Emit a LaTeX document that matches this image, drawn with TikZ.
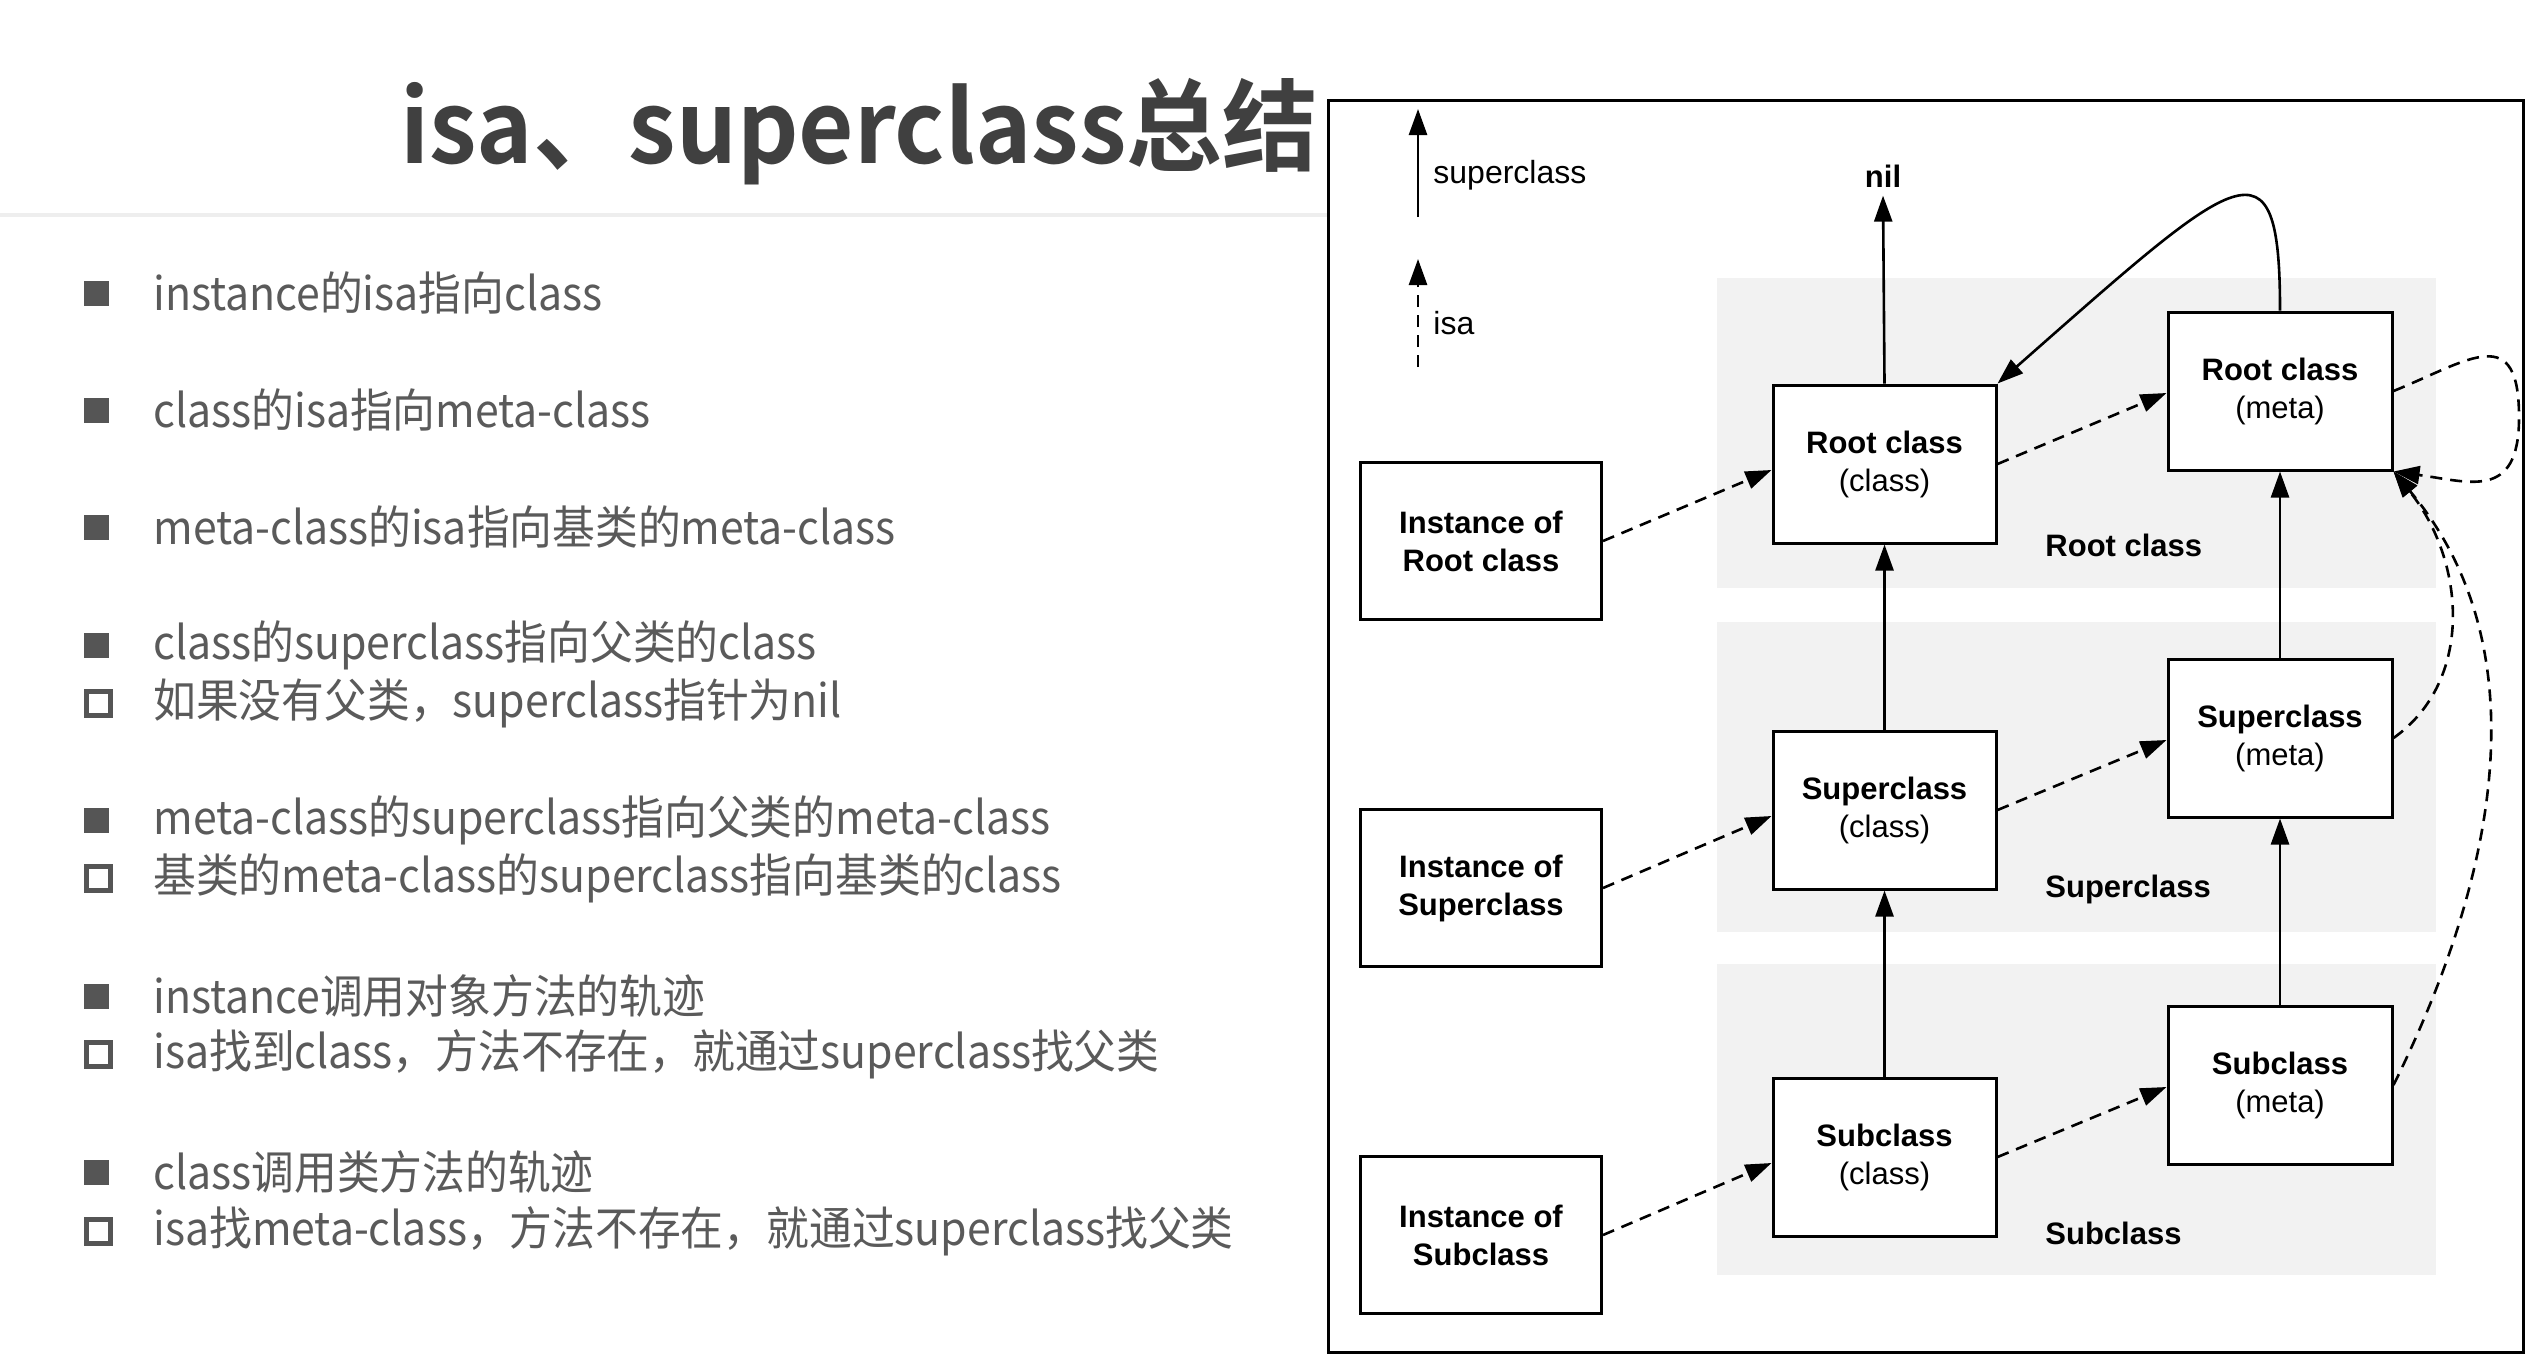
\documentclass[tikz,border=0pt]{standalone}
\usepackage{fontspec}
\setmainfont{Liberation Sans}
\newfontfamily\cjk[BoldFont={Noto Sans CJK SC Bold}]{Noto Sans CJK SC}
\usetikzlibrary{arrows.meta}
\definecolor{txt}{HTML}{5A5A5A}
\definecolor{ttl}{HTML}{404040}
\definecolor{bul}{HTML}{555555}
\definecolor{band}{HTML}{F2F2F2}
\definecolor{sepc}{HTML}{EEEEEE}
\newcommand{\lt}[1]{\scalebox{0.93}[1]{#1}}
\tikzset{
  box/.style={draw, line width=1.5pt, fill=white, align=center, inner sep=0pt,
    font=\fontsize{15.5}{19}\selectfont},
  instbox/.style={box, minimum width=120.5pt, minimum height=78.5pt, font=\bfseries\fontsize{15.5}{19}\selectfont},
  clsbox/.style={box, minimum width=111.5pt, minimum height=79pt},
  bandlbl/.style={anchor=west, inner sep=0pt, font=\bfseries\fontsize{15.5}{19}\selectfont},
  suparrow/.style={-{Triangle[length=13pt,width=9pt]}, line width=1.3pt},
  isaarrow/.style={suparrow, dash pattern=on 6pt off 4pt},
  fbul/.style={rectangle, fill=bul, minimum size=12.5pt, inner sep=0pt},
  hbul/.style={rectangle, draw=bul, line width=2.5pt, minimum size=12pt, inner sep=0pt},
  ltxt/.style={anchor=west, inner sep=0pt, text=txt, font=\cjk\fontsize{23}{28}\selectfont},
}
\begin{document}
\begin{tikzpicture}[x=0.5pt, y=-0.5pt]
\useasboundingbox (0,0) rectangle (2536,1356);
\fill[white] (0,0) rectangle (2536,1356);

% title and separator
\node[anchor=base west, inner sep=0pt, text=ttl, font=\cjk\bfseries\fontsize{50}{60}\selectfont] (title) at (400,163) {\scalebox{0.956}[1]{isa、superclass总结}};
\draw[sepc, line width=2pt] (0,215) -- (1328,215);

% bullet list
\node[fbul] (b1) at (96,293) {};   \node[ltxt] (t1) at (153,293) {\lt{instance的isa指向class}};
\node[fbul] (b2) at (96,410) {};   \node[ltxt] (t2) at (153,410) {\lt{class的isa指向meta-class}};
\node[fbul] (b3) at (96,527) {};   \node[ltxt] (t3) at (153,527) {\lt{meta-class的isa指向基类的meta-class}};
\node[fbul] (b4) at (96,645) {};   \node[ltxt] (t4) at (153,645) {\lt{class的superclass指向父类的class}};
\node[hbul] (b5) at (98,703) {};   \node[ltxt] (t5) at (153,703) {\lt{如果没有父类，superclass指针为nil}};
\node[fbul] (b6) at (96,820) {};   \node[ltxt] (t6) at (153,820) {\lt{meta-class的superclass指向父类的meta-class}};
\node[hbul] (b7) at (98,878) {};   \node[ltxt] (t7) at (153,878) {\lt{基类的meta-class的superclass指向基类的class}};
\node[fbul] (b8) at (96,996) {};   \node[ltxt] (t8) at (153,996) {\lt{instance调用对象方法的轨迹}};
\node[hbul] (b9) at (98,1054) {};  \node[ltxt] (t9) at (153,1054) {\lt{isa找到class，方法不存在，就通过superclass找父类}};
\node[fbul] (b10) at (96,1172) {}; \node[ltxt] (t10) at (153,1172) {\lt{class调用类方法的轨迹}};
\node[hbul] (b11) at (98,1231) {}; \node[ltxt] (t11) at (153,1231) {\lt{isa找meta-class，方法不存在，就通过superclass找父类}};

% diagram frame
\draw[line width=1.5pt] (1328,100) rectangle (2523,1352);

% bands
\fill[band] (1717,278) rectangle (2436,588);
\fill[band] (1717,622) rectangle (2436,932);
\fill[band] (1717,964) rectangle (2436,1275);
\node[bandlbl] (lroot) at (2045,545) {Root class};
\node[bandlbl] (lsuper) at (2045,889) {Superclass};
\node[bandlbl] (lsub) at (2045,1233) {Subclass};

% legend
\coordinate (lga) at (1418,217);
\coordinate (lgb) at (1418,109);
\coordinate (lgc) at (1418,367);
\coordinate (lgd) at (1418,259);
\draw[suparrow] (lga) -- (lgb);
\draw[isaarrow] (lgc) -- (lgd);
\node[anchor=west, inner sep=0pt, font=\fontsize{16}{19}\selectfont] (lgsup) at (1433,175) {superclass};
\node[anchor=west, inner sep=0pt, font=\fontsize{16}{19}\selectfont] (lgisa) at (1433,323) {isa};

% boxes
\node[instbox] (ir) at (1481,541) {Instance of\\Root class};
\node[instbox] (is) at (1481,888) {Instance of\\Superclass};
\node[instbox] (ib) at (1481,1235) {Instance of\\Subclass};
\node[clsbox] (rc) at (1884.5,464) {\textbf{Root class}\\(class)};
\node[clsbox] (sc) at (1884.5,810) {\textbf{Superclass}\\(class)};
\node[clsbox] (bc) at (1884.5,1157) {\textbf{Subclass}\\(class)};
\node[clsbox, minimum width=112pt] (rm) at (2280,391) {\textbf{Root class}\\(meta)};
\node[clsbox, minimum width=112pt] (sm) at (2280,738) {\textbf{Superclass}\\(meta)};
\node[clsbox, minimum width=112pt] (bm) at (2280,1085) {\textbf{Subclass}\\(meta)};
\node[inner sep=0pt, font=\bfseries\fontsize{15.5}{19}\selectfont] (nil) at (1883,176) {nil};

% superclass arrows
\draw[suparrow] (rc.north) -- ([yshift=-4pt]nil.south);
\draw[suparrow] (sc.north) -- (rc.south);
\draw[suparrow] (bc.north) -- (sc.south);
\draw[suparrow] (sm.north) -- (rm.south);
\draw[suparrow] (bm.north) -- (sm.south);
\draw[suparrow] (rm.north) .. controls (2280,130) and (2240,170) .. (rc.north east);

% isa arrows
\draw[isaarrow] (ir.east) -- ([yshift=-3pt]rc.west);
\draw[isaarrow] (is.east) -- ([yshift=-3pt]sc.west);
\draw[isaarrow] (ib.east) -- ([yshift=-3pt]bc.west);
\draw[isaarrow] (rc.east) -- ([yshift=-1pt]rm.west);
\draw[isaarrow] (sc.east) -- ([yshift=-1pt]sm.west);
\draw[isaarrow] (bc.east) -- ([yshift=-1pt]bm.west);
\draw[isaarrow] (rm.east) .. controls (2470,360) and (2520,320) .. (2519,420) .. controls (2518,500) and (2470,482) .. (rm.south east);
\draw[isaarrow] (sm.east) .. controls (2475,680) and (2465,560) .. (rm.south east);
\draw[isaarrow] (bm.east) .. controls (2505,860) and (2535,640) .. (rm.south east);
\end{tikzpicture}
\end{document}
